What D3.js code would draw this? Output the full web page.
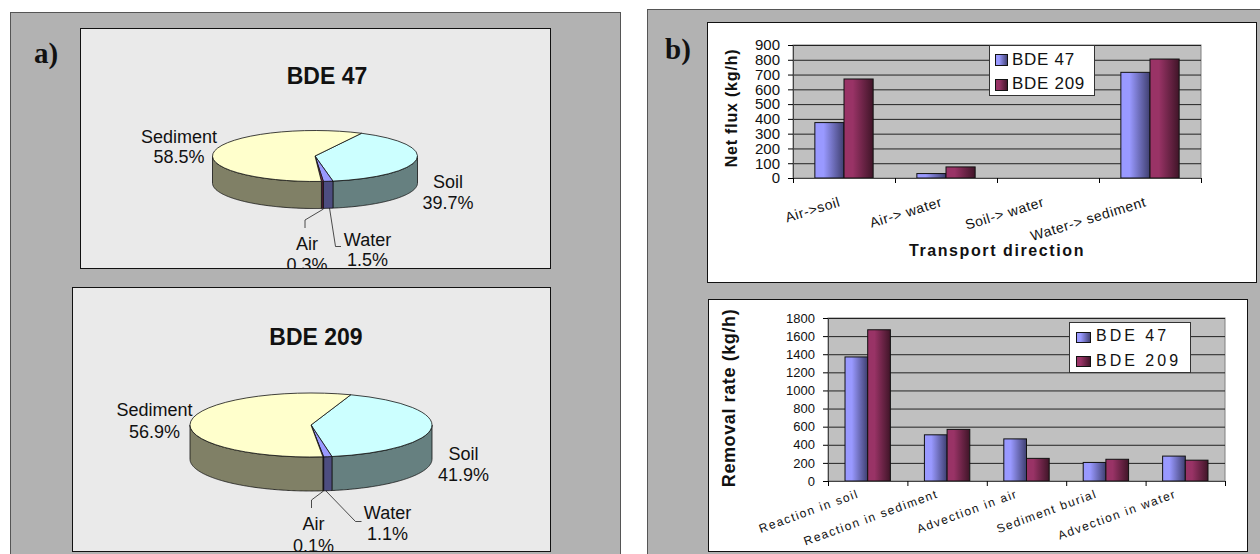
<!DOCTYPE html>
<html>
<head>
<meta charset="utf-8">
<script src="https://cdn.jsdelivr.net/npm/d3@7"></script>
<style>
	body { margin: 0; background: white; }
	svg { display: block; }
	text { font-family: "Liberation Sans", Arial, sans-serif; fill: #111; }
</style>
</head>
<body>
<script>
// pie data
var pieLabels = ["Soil", "Water", "Air", "Sediment"]
var pie47 = [39.7, 1.5, 0.3, 58.5]
var pie209 = [41.9, 1.1, 0.1, 56.9]

// bar data
var seriesNames = ["BDE 47", "BDE 209"]
var fluxCategories = ["Air->soil", "Air-> water", "Soil-> water", "Water-> sediment"]
var flux47 = [375, 30, 0, 715]
var flux209 = [670, 75, 0, 805]
var fluxTicks = [0, 100, 200, 300, 400, 500, 600, 700, 800, 900]
var removalCategories = ["Reaction in soil", "Reaction in sediment", "Advection in air", "Sediment burial", "Advection in water"]
var removal47 = [1370, 510, 465, 205, 275]
var removal209 = [1670, 570, 250, 240, 230]
var removalTicks = [0, 200, 400, 600, 800, 1000, 1200, 1400, 1600, 1800]

var topColors = {Soil: "#CCFFFF", Water: "#9999FF", Air: "#993366", Sediment: "#FFFFCC"}
var wallColors = {Soil: "#668080", Water: "#4D4D80", Air: "#4D1A33", Sediment: "#808066"}

var svg = d3.select("body")
	.append("svg")
	.attr("width", 1260)
	.attr("height", 554)

var defs = svg.append("defs")

function addGradient(id, light, dark){
	var g = defs.append("linearGradient").attr("id", id)
	g.append("stop").attr("offset", "0").attr("stop-color", light)
	g.append("stop").attr("offset", "0.3").attr("stop-color", light)
	g.append("stop").attr("offset", "1").attr("stop-color", dark)
}
addGradient("grad0", "#9999FF", "#3F3F70")
addGradient("grad1", "#993366", "#401528")

function box(x, y, w, h, fill, stroke){
	svg.append("rect")
		.attr("x", x + 0.5).attr("y", y + 0.5)
		.attr("width", w).attr("height", h)
		.attr("fill", fill)
		.attr("stroke", stroke)
}

// grey panels
box(10, 12, 610, 560, "#B2B2B2", "#555")
box(647, 9, 640, 560, "#B2B2B2", "#555")
box(80, 28, 470, 240, "#EAEAEA", "#111")
box(72, 287, 478, 264, "#EAEAEA", "#111")
box(707, 22, 549, 260, "white", "#111")
box(708, 299, 539, 252, "white", "#111")

svg.append("text").attr("x", 34).attr("y", 63)
	.style("font-family", "'Liberation Serif'").style("font-weight", "bold").style("font-size", "29px")
	.text("a)")
svg.append("text").attr("x", 665).attr("y", 59)
	.style("font-family", "'Liberation Serif'").style("font-weight", "bold").style("font-size", "29px")
	.text("b)")

function drawPie(values, o){
	var clipId = "clip" + o.title.replace(" ", "")
	svg.append("clipPath").attr("id", clipId)
		.append("rect")
		.attr("x", o.clip[0]).attr("y", o.clip[1])
		.attr("width", o.clip[2]).attr("height", o.clip[3])
	var g = svg.append("g").attr("clip-path", "url(#" + clipId + ")")

	var slices = d3.pie().sort(null)
		.startAngle(o.start)
		.endAngle(o.start + 2 * Math.PI)(values)
	slices.forEach((d, i) => d.name = pieLabels[i])

	var px = (a) => o.cx + o.rx * Math.sin(a)
	var py = (a) => o.cy - o.ry * Math.cos(a)

	// side wall, only the front half of the pie shows
	function wall(d){
		var a0 = Math.max(d.startAngle, Math.PI / 2)
		var a1 = Math.min(d.endAngle, 3 * Math.PI / 2)
		if(a1 <= a0) return null
		var angles = d3.range(a0, a1, 0.01).concat([a1])
		var pts = angles.map((a) => [px(a), py(a)])
		var low = angles.slice().reverse().map((a) => [px(a), py(a) + o.depth])
		return d3.line()(pts.concat(low)) + "Z"
	}

	g.selectAll("path.wall")
		.data(slices)
		.enter()
		.append("path")
		.attr("class", "wall")
		.attr("d", wall)
		.attr("fill", (d) => wallColors[d.name])
		.attr("stroke", "#111")
		.attr("stroke-width", 0.8)

	var arc = d3.arc().innerRadius(0).outerRadius(o.rx)
	g.append("g")
		.attr("transform", "translate(" + o.cx + "," + o.cy + ") scale(1," + (o.ry / o.rx) + ")")
		.selectAll("path")
		.data(slices)
		.enter()
		.append("path")
		.attr("d", arc)
		.attr("fill", (d) => topColors[d.name])
		.attr("stroke", "#111")
		.attr("stroke-width", 0.8)
		.attr("vector-effect", "non-scaling-stroke")

	g.selectAll("path.leader")
		.data(o.leaders)
		.enter()
		.append("path")
		.attr("class", "leader")
		.attr("d", (d) => d3.line()(d))
		.attr("fill", "none")
		.attr("stroke", "#222")
		.attr("stroke-width", 0.8)

	slices.forEach((d, i) => {
		var p = o.labels[i]
		g.append("text").attr("x", p[0]).attr("y", p[1])
			.attr("text-anchor", "middle").style("font-size", "18px")
			.text(d.name)
		g.append("text").attr("x", p[0]).attr("y", p[2])
			.attr("text-anchor", "middle").style("font-size", "18px")
			.text(d.value.toFixed(1) + "%")
	})

	svg.append("text").attr("x", o.titleX).attr("y", o.titleY)
		.attr("text-anchor", "middle")
		.style("font-size", "23px").style("font-weight", "bold")
		.text(o.title)

	svg.append("rect")
		.attr("x", o.clip[0] + 0.5).attr("y", o.clip[1] + 0.5)
		.attr("width", o.clip[2]).attr("height", o.clip[3])
		.attr("fill", "none").attr("stroke", "#111")
}

drawPie(pie47, {
	title: "BDE 47", titleX: 327, titleY: 84,
	cx: 315, cy: 156, rx: 102.5, ry: 25.5, depth: 27,
	start: 27 * Math.PI / 180,
	clip: [80, 28, 470, 240],
	labels: [[448, 188, 209], [367.5, 246, 266], [307, 250, 271], [179, 143, 163]],
	leaders: [[[323.5, 209], [305, 220], [305, 228]], [[329.5, 208], [335.5, 246.5], [341, 246.5]]]
})

drawPie(pie209, {
	title: "BDE 209", titleX: 316, titleY: 345,
	cx: 311, cy: 425, rx: 121, ry: 32, depth: 34,
	start: 19.2 * Math.PI / 180,
	clip: [72, 287, 478, 264],
	labels: [[463.5, 460, 481], [387.5, 519, 540], [313.5, 530, 552], [154.5, 416, 438]],
	leaders: [[[323.5, 491], [311.5, 500], [311.5, 508]], [[326, 491], [355.5, 521.5], [361.5, 521.5]]]
})

function drawBars(categories, s0, s1, ticks, o){
	var w = o.x1 - o.x0
	var h = o.y1 - o.y0
	var g = svg.append("g").attr("transform", "translate(" + o.x0 + "," + o.y0 + ")")

	var xScale = d3.scaleBand().domain(categories).range([0, w])
	var subScale = d3.scaleBand().domain(seriesNames).range([0, xScale.bandwidth()]).paddingOuter(0.75)
	var yScale = d3.scaleLinear().domain([0, d3.max(ticks)]).range([h, 0])
	var edgeScale = d3.scaleLinear().domain([0, categories.length]).range([0, w])

	g.append("rect").attr("width", w).attr("height", h)
		.attr("fill", "#C0C0C0").attr("stroke", "#808080")

	// gridlines
	g.append("g")
		.call(d3.axisLeft(yScale).tickValues(ticks).tickSize(-w).tickFormat(""))
		.call((a) => a.select(".domain").remove())
		.selectAll("line").attr("stroke", "#222")

	var series = [s0, s1]
	series.forEach((values, s) => {
		var rows = values.map((v, i) => ({cat: categories[i], v: v})).filter((d) => d.v > 0)
		g.append("g")
			.selectAll("rect")
			.data(rows)
			.enter()
			.append("rect")
			.attr("x", (d) => xScale(d.cat) + subScale(seriesNames[s]))
			.attr("y", (d) => yScale(d.v))
			.attr("width", subScale.bandwidth())
			.attr("height", (d) => h - yScale(d.v))
			.attr("fill", "url(#grad" + s + ")")
			.attr("stroke", "#111")
	})

	var yAxis = g.append("g")
		.call(d3.axisLeft(yScale).tickValues(ticks).tickSize(5).tickPadding(o.tickPad).tickFormat(d3.format("d")))
	yAxis.select(".domain").attr("stroke", "#444")
	yAxis.selectAll("text").style("font-size", o.tickFont + "px").style("font-family", "'Liberation Sans'")

	var xAxis = g.append("g")
		.attr("transform", "translate(0," + h + ")")
		.call(d3.axisBottom(edgeScale).tickValues(d3.range(categories.length + 1)).tickSize(5).tickFormat(""))
	xAxis.select(".domain").attr("stroke", "#444")

	// slanted category labels
	g.selectAll("text.cat")
		.data(categories)
		.enter()
		.append("text")
		.attr("class", "cat")
		.attr("text-anchor", "end")
		.attr("transform", (d) => "translate(" + (xScale(d) + xScale.bandwidth() / 2 + o.catDx) + "," + (h + o.catDy) + ") rotate(" + o.catAngle + ")")
		.style("font-size", o.catFont + "px")
		.style("letter-spacing", o.catSpacing + "px")
		.text((d) => d)

	// y title
	svg.append("text")
		.attr("transform", "translate(" + o.yTitleX + "," + o.yTitleY + ") rotate(-90)")
		.attr("text-anchor", "middle")
		.style("font-size", o.yTitleFont + "px").style("font-weight", "bold")
		.style("letter-spacing", o.yTitleSpacing + "px")
		.text(o.yTitle)

	if(o.xTitle){
		svg.append("text").attr("x", o.xTitleX).attr("y", o.xTitleY)
			.attr("text-anchor", "middle")
			.style("font-size", "16px").style("font-weight", "bold")
			.style("letter-spacing", "1.6px")
			.text(o.xTitle)
	}

	// legend
	var l = o.legend
	svg.append("rect")
		.attr("x", l.x + 0.5).attr("y", l.y + 0.5)
		.attr("width", l.w).attr("height", l.h)
		.attr("fill", "white").attr("stroke", "#333")
	seriesNames.forEach((name, i) => {
		svg.append("rect")
			.attr("x", l.swatchX + 0.5).attr("y", l.swatchY[i] + 0.5)
			.attr("width", l.swatchW).attr("height", l.swatchH)
			.attr("fill", "url(#grad" + i + ")")
			.attr("stroke", "#111")
		svg.append("text")
			.attr("x", l.textX).attr("y", l.textY[i])
			.style("font-size", l.font + "px")
			.style("letter-spacing", l.spacing + "px")
			.text(name)
	})
}

drawBars(fluxCategories, flux47, flux209, fluxTicks, {
	x0: 793, x1: 1201, y0: 45, y1: 178,
	tickFont: 15, tickPad: 8,
	catFont: 14, catSpacing: 0.6, catAngle: -17, catDx: -3, catDy: 28,
	yTitle: "Net flux (kg/h)", yTitleX: 737, yTitleY: 108, yTitleFont: 16, yTitleSpacing: 0.8,
	xTitle: "Transport direction", xTitleX: 997, xTitleY: 256,
	legend: {x: 989, y: 45, w: 105, h: 50, swatchX: 995, swatchY: [54, 79], swatchW: 12, swatchH: 11,
		textX: 1012, textY: [65, 89], font: 17, spacing: 0.7}
})

drawBars(removalCategories, removal47, removal209, removalTicks, {
	x0: 828, x1: 1225, y0: 318, y1: 481,
	tickFont: 13, tickPad: 8,
	catFont: 12, catSpacing: 1.5, catAngle: -20, catDx: -8, catDy: 16,
	yTitle: "Removal rate (kg/h)", yTitleX: 735, yTitleY: 398, yTitleFont: 18, yTitleSpacing: 0.6,
	legend: {x: 1069, y: 322, w: 121, h: 50, swatchX: 1076, swatchY: [332, 356], swatchW: 14, swatchH: 10,
		textX: 1096, textY: [341, 366], font: 16, spacing: 3}
})
</script>
</body>
</html>
